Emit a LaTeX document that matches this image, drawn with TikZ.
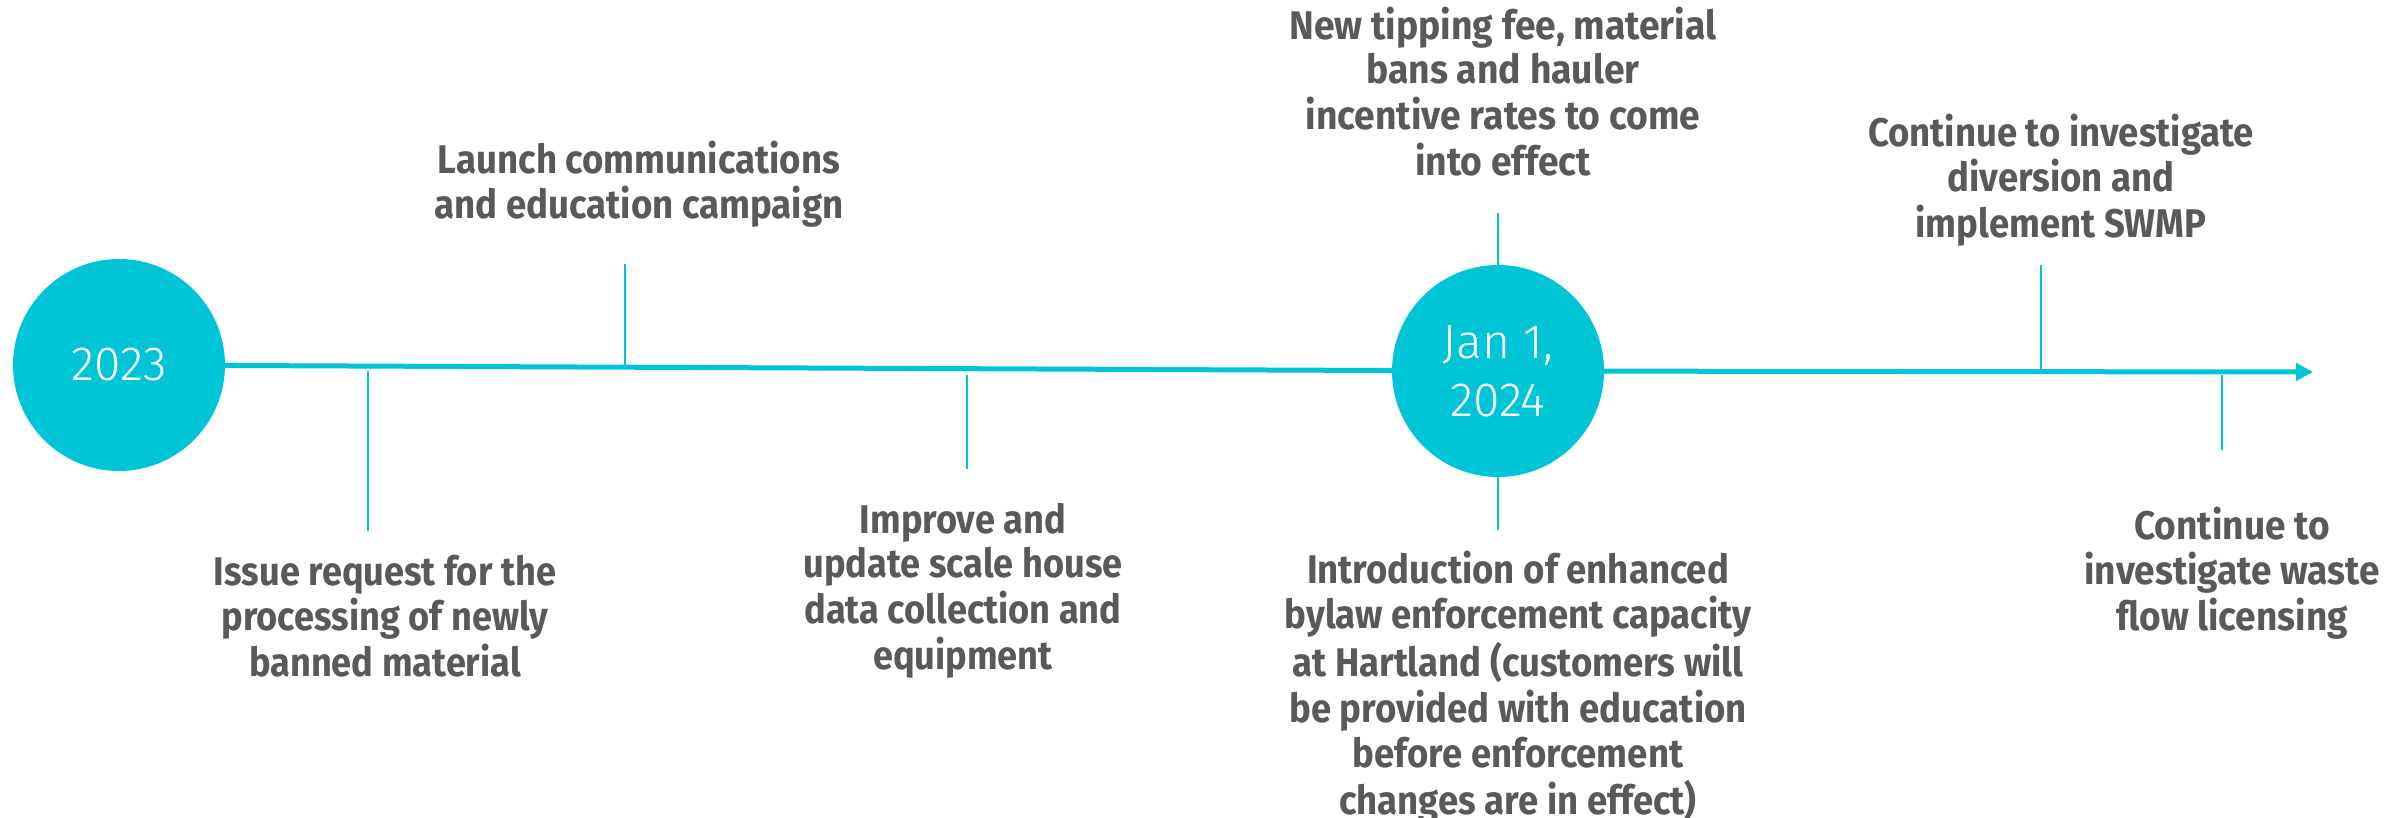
\documentclass[tikz,border=0pt]{standalone}
\usepackage{fontspec}
\setmainfont{Fira Sans}
\newfontfamily\lightfont{Fira Sans Light}
\usepackage{graphicx}
\usetikzlibrary{arrows.meta}
\definecolor{tl}{HTML}{00C5D6}
\definecolor{tx}{HTML}{58595B}
\newcommand\lbl[2]{\resizebox{#1pt}{\height}{\begin{tabular}[t]{@{}c@{}}#2\end{tabular}}}
\begin{document}
\begin{tikzpicture}[x=1pt,y=-1pt,
  txt/.style={anchor=base, inner sep=0pt, text=tx, font=\bfseries\fontsize{40}{44.7}\selectfont},
  yearc/.style={circle, fill=tl, minimum size=212pt, inner sep=0pt, text=white, align=center,
    font=\lightfont\fontsize{48}{58}\selectfont},
  tickline/.style={draw=tl, line width=1.5pt},
  mainline/.style={draw=tl, line width=5pt}]
\useasboundingbox (0,0) rectangle (2407,817);

% circles
\node[yearc] (c1) at (119,365) {2023};
\node[yearc] (c2) at (1498,371) {Jan 1,\\2024};
\coordinate (tip) at (2313,372);

% main line
\draw[mainline] (c1) -- (c2);
\draw[mainline, -{Triangle[length=17pt,width=17pt]}] (c2) -- (tip);

% tick end points
\coordinate (t1a) at (368,371);  \coordinate (t1b) at (368,531);
\coordinate (t2a) at (625,366);  \coordinate (t2b) at (625,264);
\coordinate (t3a) at (967,375);  \coordinate (t3b) at (967,469);
\coordinate (t4b) at (1498,213);
\coordinate (t5b) at (1498,530);
\coordinate (t6a) at (2041,370); \coordinate (t6b) at (2041,265);
\coordinate (t7a) at (2222,375); \coordinate (t7b) at (2222,450);

\draw[tickline] (t1a) -- (t1b);
\draw[tickline] (t2a) -- (t2b);
\draw[tickline] (t3a) -- (t3b);
\draw[tickline] (c2.north) -- (t4b);
\draw[tickline] (c2.south) -- (t5b);
\draw[tickline] (t6a) -- (t6b);
\draw[tickline] (t7a) -- (t7b);

% labels
\node[txt] (issue) at (385,585) {\lbl{342}{Issue request for the\\processing of newly\\banned material}};
\node[txt] (launch) at (639,173) {\lbl{409}{Launch communications\\and education campaign}};
\node[txt] (improve) at (963,533) {\lbl{319}{Improve and\\update scale house\\data collection and\\equipment}};
\node[txt] (tipping) at (1503,39) {\lbl{427}{New tipping fee, material\\bans and hauler\\incentive rates to come\\into effect}};
\node[txt] (intro) at (1518,583) {\lbl{467}{Introduction of enhanced\\bylaw enforcement capacity\\at Hartland (customers will\\be provided with education\\before enforcement\\changes are in effect)}};
\node[txt] (swmp) at (2061,146) {\lbl{386}{Continue to investigate\\diversion and\\implement SWMP}};
\node[txt] (waste) at (2232,539) {\lbl{295}{Continue to\\investigate waste\\flow licensing}};
\end{tikzpicture}
\end{document}
